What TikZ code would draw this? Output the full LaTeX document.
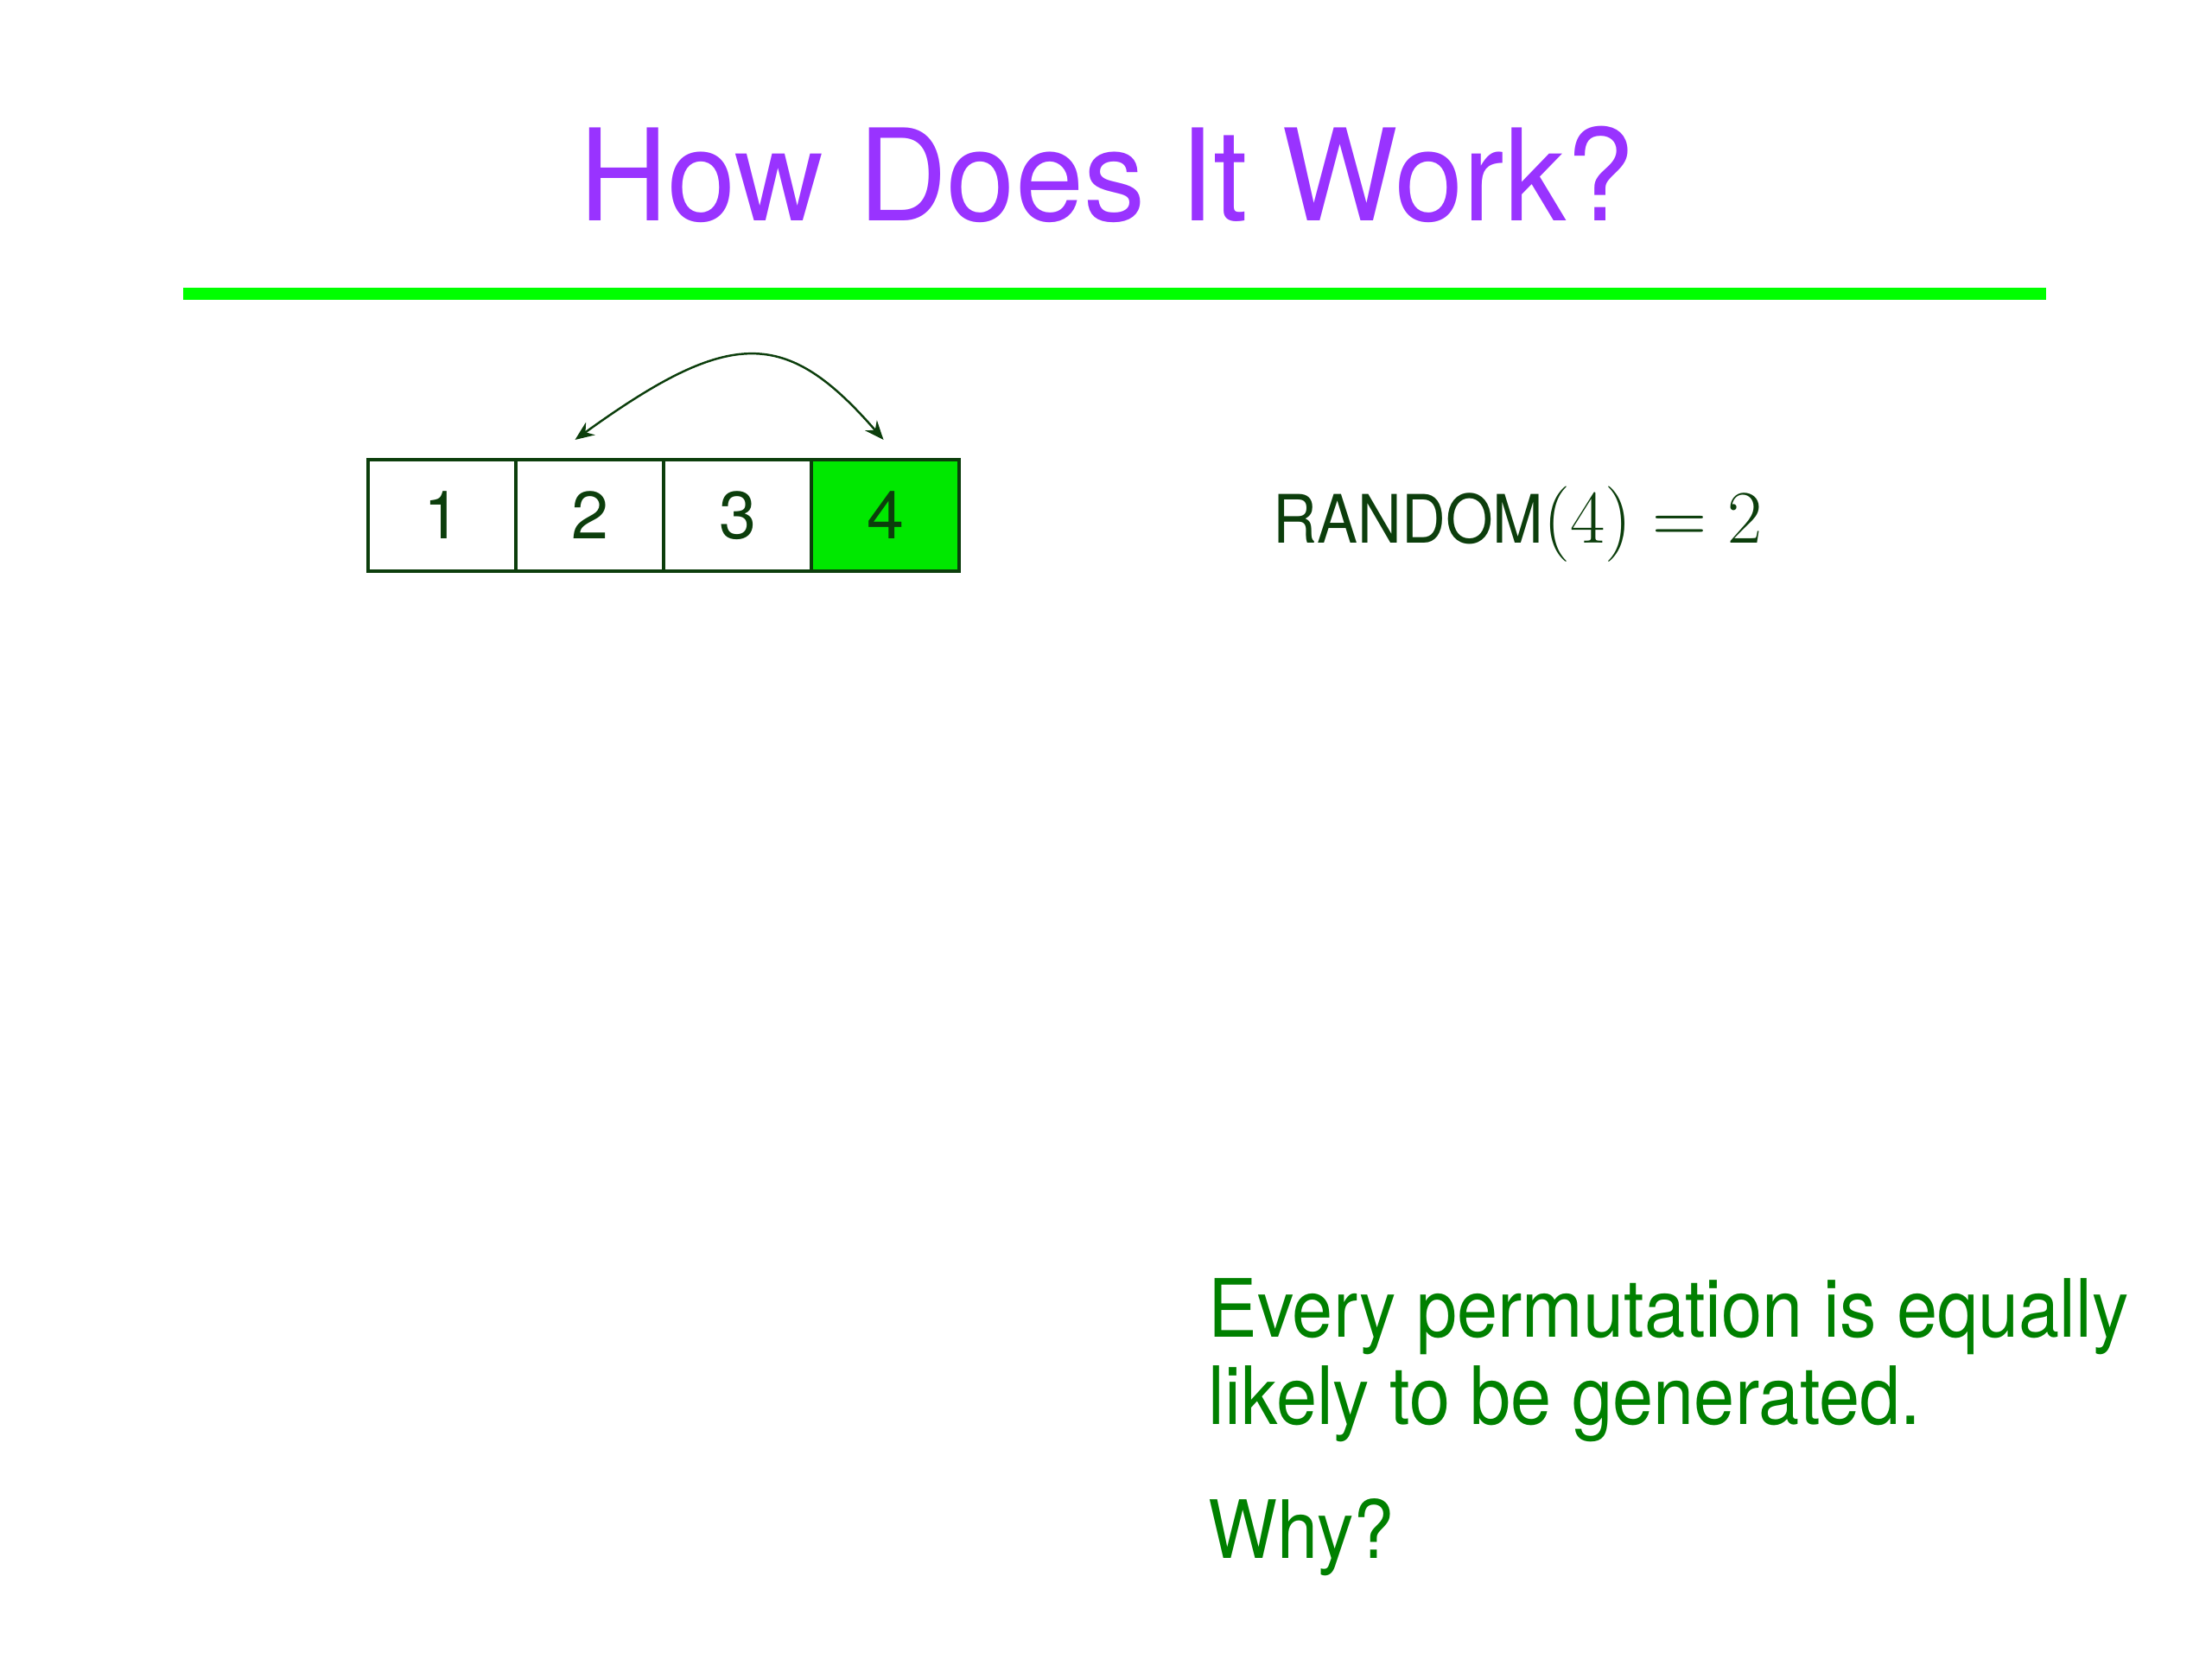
\documentclass[tikz,border=0pt]{standalone}
\usepackage{fontspec}
\setsansfont{TeX Gyre Heros}
\newfontfamily\titlefont[FakeStretch=0.965]{TeX Gyre Heros}
\newfontfamily\narrowfont[FakeStretch=0.91]{TeX Gyre Heros}
\usepackage{amsmath}
\usetikzlibrary{positioning, arrows.meta}

\definecolor{titlepurple}{RGB}{153,51,255}
\definecolor{rulegreen}{RGB}{0,255,0}
\definecolor{darkgreen}{RGB}{12,62,12}
\definecolor{cellgreen}{RGB}{0,232,0}
\definecolor{textgreen}{RGB}{0,128,0}

\begin{document}
\begin{tikzpicture}[
  font=\sffamily,
  node distance=0cm,
  cell/.style={rectangle, draw=darkgreen, line width=0.9pt, minimum width=1.71cm, minimum height=1.29cm, inner sep=0pt, outer sep=0pt, text=darkgreen, font=\sffamily\fontsize{22}{26}\selectfont},
  pick/.style={cell, fill=cellgreen},
  swaparr/.style={{Stealth[length=2.2mm, width=1.8mm]}-{Stealth[length=2.2mm, width=1.8mm]}, draw=darkgreen, line width=0.7pt},
  claim/.style={anchor=base west, inner sep=0pt, text=textgreen, font=\narrowfont\fontsize{26.5}{29}\selectfont}
]
  \useasboundingbox (0,0) rectangle (25.6,19.2);

  \node[anchor=base, inner sep=0pt, text=titlepurple, font=\titlefont\fontsize{42}{50}\selectfont] (title) at (12.81,16.64) {How Does It Work?};
  \draw[rulegreen, line width=4pt] (2.12,15.80) coordinate (ruleL) -- (23.68,15.80) coordinate (ruleR);

  \node[cell] (b1) at (5.115,13.235) {1};
  \node[cell, right=of b1] (b2) {2};
  \node[cell, right=of b2] (b3) {3};
  \node[pick, right=of b3] (b4) {4};

  \draw[swaparr] ([shift={(-0.17,0.23)}]b2.north) .. controls +(1.8,1.3) and +(-1.13,1.3) .. ([shift={(-0.02,0.23)}]b4.north);

  \node[anchor=base west, inner sep=0pt, text=darkgreen, font=\narrowfont\fontsize{22}{26}\selectfont] (rand) at (14.73,12.91) {RANDOM{\fontsize{27.5}{30}\selectfont$(4) = 2$}};

  \node[claim] (claim1) at (13.98,3.72) {Every permutation is equally};
  \node[claim] (claim2) at (13.98,2.71) {likely to be generated.};
  \node[claim] (why) at (13.98,1.16) {Why?};
\end{tikzpicture}
\end{document}
